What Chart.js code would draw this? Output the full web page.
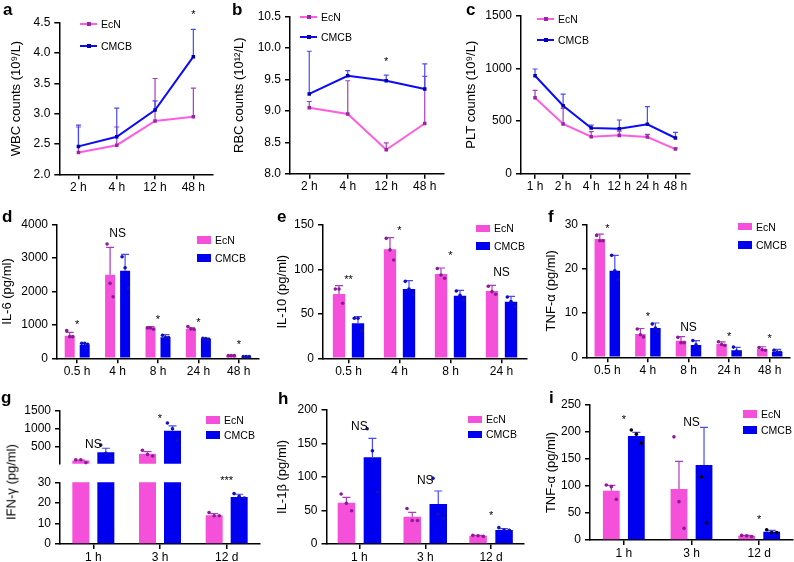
<!DOCTYPE html>
<html>
<head>
<meta charset="utf-8">
<script src="https://cdn.jsdelivr.net/npm/chart.js@4.4.1/dist/chart.umd.min.js"></script>
<style>
body { margin: 0; background: #fff; width: 794px; height: 562px; position: relative; overflow: hidden; font-family: 'Liberation Sans', Arial, sans-serif; }
canvas { position: absolute; }
.lbl { position: absolute; font-weight: bold; font-size: 17px; line-height: 17px; }
.leg { position: absolute; font-size: 10.5px; line-height: 12px; white-space: nowrap; }
.sw { position: absolute; }
.ytitle { position: absolute; font-size: 13px; white-space: nowrap; transform: translate(-50%, -50%) rotate(-90deg); }
</style>
</head>
<body>
<script>
// categories
const catsAB = ['2 h', '4 h', '12 h', '48 h'];
const catsC = ['1 h', '2 h', '4 h', '12 h', '24 h', '48 h'];
const catsDF = ['0.5 h', '4 h', '8 h', '24 h', '48 h'];
const catsE = ['0.5 h', '4 h', '8 h', '24 h'];
const catsGHI = ['1 h', '3 h', '12 d'];
const groups = ['EcN', 'CMCB'];

// y tick values
const ticksA = [2.0, 2.5, 3.0, 3.5, 4.0, 4.5];
const ticksB = [8.0, 8.5, 9.0, 9.5, 10.0, 10.5];
const ticksC = [0, 500, 1000, 1500];
const ticksD = [0, 1000, 2000, 3000, 4000];
const ticksE = [0, 50, 100, 150];
const ticksF = [0, 10, 20, 30];
const ticksGTop = [500, 1000, 1500];
const ticksGBottom = [0, 10, 20, 30];
const ticksH = [0, 50, 100, 150, 200];
const ticksI = [0, 50, 100, 150, 200, 250];

// a - WBC
const wbcEcN = [2.36, 2.48, 2.88, 2.95];
const wbcEcNSd = [0.42, 0.30, 0.70, 0.47];
const wbcCMCB = [2.46, 2.62, 3.06, 3.94];
const wbcCMCBSd = [0.35, 0.47, 0.15, 0.45];
const sigA = ['', '', '', '*'];
const sigAtA = [0, 0, 0, 4.68];

// b - RBC
const rbcEcN = [9.05, 8.95, 8.38, 8.80];
const rbcEcNSd = [0.10, 0.53, 0.11, 0.75];
const rbcCMCB = [9.27, 9.56, 9.48, 9.35];
const rbcCMCBSd = [0.68, 0.08, 0.09, 0.40];
const sigB = ['', '', '*', ''];
const sigAtB = [0, 0, 9.83, 0];

// c - PLT
const pltEcN = [721, 472, 351, 364, 348, 234];
const pltEcNSd = [70, 148, 48, 41, 26, 10];
const pltCMCB = [930, 645, 434, 427, 469, 339];
const pltCMCBSd = [64, 111, 28, 83, 167, 54];

// d - IL-6
const il6EcN = [678, 2504, 928, 878, 80];
const il6EcNSem = [100, 818, 20, 35, 10];
const il6CMCB = [399, 2623, 628, 578, 50];
const il6CMCBSem = [40, 490, 80, 20, 5];
const il6EcNDots = [[828, 648, 648], [3421, 2244, 1845], [910, 910, 870], [950, 880, 870], [80, 80, 80]];
const il6CMCBDots = [[450, 450, 420], [3042, 2713, 2095], [690, 620, 620], [600, 590, 570], [50, 50, 50]];
const sigD = ['*', 'NS', '*', '*', '*'];
const sigAtD = [1100, 3750, 1230, 1150, 480];

// e - IL-10
const il10EcN = [72.4, 122.6, 94.9, 75.75];
const il10EcNSem = [9.35, 13.15, 6.7, 6.35];
const il10CMCB = [39.4, 78, 70.5, 63.75];
const il10CMCBSem = [7.5, 9.4, 6, 6];
const il10EcNDots = [[78, 78, 62], [135, 122, 110.6], [101, 93.75, 90], [81, 75, 72]];
const il10CMCBDots = [[45, 45, 31], [86.6, 78, 71.25], [75.75, 71, 66], [69, 64, 58]];
const sigE = ['**', '*', '*', 'NS'];
const sigAtE = [91, 147, 118, 97.5];

// f - TNF-a
const tnfEcN = [26.7, 5.26, 3.76, 3.0, 1.88];
const tnfEcNSem = [1.1, 1.24, 0.9, 0.5, 0.5];
const tnfCMCB = [19.55, 6.6, 2.78, 1.58, 1.28];
const tnfCMCBSem = [3.45, 1.14, 1.0, 0.67, 0.5];
const tnfEcNDots = [[27.5, 26.3, 26.3], [6.4, 5.1, 4.6], [4.5, 3.3, 3.3], [3.5, 2.9, 2.7], [2.2, 1.7, 1.6]];
const tnfCMCBDots = [[23, 19.5, 17.5], [7.5, 6.6, 5.8], [3.8, 2.8, 1.8], [2.3, 1.4, 1.1], [1.6, 1.2, 1.1]];
const sigF = ['*', '*', 'NS', '*', '*'];
const sigAtF = [29.7, 9.8, 6.9, 5.3, 4.9];

// g - IFN-g (broken axis)
const ifnEcN = [119, 309.5, 14.0];
const ifnEcNSem = [10, 55, 0.8];
const ifnCMCB = [349, 944, 22.9];
const ifnCMCBSem = [111, 135, 1.3];
const ifnEcNDots = [[143, 143, 63], [405, 286, 246], [15.3, 13.7, 13.7]];
const ifnCMCBDots = [[548, 320, 183], [1159, 1000, 667], [24.5, 23.2, 22.4]];
const sigGTop = ['NS', '*', ''];
const sigAtGTop = [580, 1357, 0];
const sigGBottom = ['', '', '***'];
const sigAtGBottom = [0, 0, 32.3];

// h - IL-1b
const il1bEcN = [61.7, 40.8, 12.4];
const il1bEcNSem = [8, 6.5, 0.5];
const il1bCMCB = [129.4, 59.7, 20.9];
const il1bCMCBSem = [28.3, 19.4, 2];
const il1bEcNDots = [[74.6, 60.7, 49.7], [53, 35, 35], [12.9, 12.4, 11.4]];
const il1bCMCBDots = [[172, 139, 78], [98, 44.8, 38.3], [24.4, 20.9, 20.4]];
const sigH = ['NS', 'NS', '*'];
const sigAtH = [177, 95.5, 46.8];

// i - TNF-a
const tnf2EcN = [91.3, 94.4, 8];
const tnf2EcNSem = [9.7, 51.3, 0.6];
const tnf2CMCB = [192.6, 138.9, 15.4];
const tnf2CMCBSem = [6.8, 69.7, 2.5];
const tnf2EcNDots = [[101.8, 98.8, 75.3], [191, 71, 21.6], [8.5, 7.7, 6.5]];
const tnf2CMCBDots = [[203.7, 196, 179], [117, 32], [19, 14, 14]];
const sigI = ['*', 'NS', '*'];
const sigAtI = [228, 220, 43];

// colours
const pinkLine = '#ff5ce0', purple = '#9a25a8', blueLine = '#0a0aff', darkBlue = '#0000b0';
const pinkBar = '#f550d9', blueBar = '#0000f0';
const errPink = '#a83cc0', errBlue = '#4a4af5';
const dotPink = '#8e1a99', dotBlue = '#1010c0';

Chart.defaults.font.family = "'Liberation Sans', Arial, sans-serif";
Chart.defaults.color = '#000';
Chart.defaults.animation = false;

// error bars, replicate dots and significance marks
function drawMarks(chart, o) {
  const ctx = chart.ctx, ys = chart.scales.y;
  ctx.save();
  chart.data.datasets.forEach((ds, i) => {
    const meta = chart.getDatasetMeta(i);
    meta.data.forEach((el, j) => {
      const v = ds.data[j];
      if (v < ys.min || v > ys.max) return;
      if (o.err) {
        const yc = ys.getPixelForValue(v + o.err[i][j]);
        ctx.strokeStyle = o.errColor[i];
        ctx.lineWidth = 1.2;
        ctx.beginPath();
        ctx.moveTo(el.x, el.y); ctx.lineTo(el.x, yc);
        ctx.moveTo(el.x - o.cap, yc); ctx.lineTo(el.x + o.cap, yc);
        ctx.stroke();
      }
    });
  });
  if (o.dots) {
    chart.data.datasets.forEach((ds, i) => {
      const meta = chart.getDatasetMeta(i);
      meta.data.forEach((el, j) => {
        const list = o.dots[i][j];
        list.forEach((d, k) => {
          if (d < ys.min || d > ys.max) return;
          const dx = (k - (list.length - 1) / 2) * el.width * 0.3;
          ctx.fillStyle = o.dotColor[i];
          ctx.beginPath();
          ctx.arc(el.x + dx, ys.getPixelForValue(d), 1.8, 0, Math.PI * 2);
          ctx.fill();
        });
      });
    });
  }
  ctx.restore();
}

const marks = {
  id: 'marks',
  beforeDatasetsDraw(chart, args, o) { if (o.under) drawMarks(chart, o); },
  afterDatasetsDraw(chart, args, o) { if (!o.under) drawMarks(chart, o); },
  afterDraw(chart, args, o) {
    if (!o.sig) return;
    const ctx = chart.ctx, xs = chart.scales.x, ys = chart.scales.y;
    ctx.save();
    ctx.fillStyle = '#000';
    ctx.textAlign = 'center';
    ctx.textBaseline = 'alphabetic';
    o.sig.forEach((s, j) => {
      if (!s) return;
      const x = xs.getPixelForValue(j), y = ys.getPixelForValue(o.sigAt[j]);
      if (s.includes('*')) { ctx.font = "11px 'Liberation Sans', Arial"; ctx.fillText(s, x, y + 6); }
      else { ctx.font = "12px 'Liberation Sans', Arial"; ctx.fillText(s, x, y + 4.3); }
    });
    ctx.restore();
  }
};
Chart.register(marks);

function yScale(ticks, title, dec, min) {
  return {
    min: min !== undefined ? min : ticks[0], max: ticks[ticks.length - 1],
    afterBuildTicks: s => { s.ticks = ticks.map(v => ({ value: v })); },
    ticks: { padding: 4, font: { size: 12 }, callback: v => dec ? v.toFixed(dec) : String(v) },
    grid: { display: true, drawOnChartArea: false, drawTicks: true, tickLength: 5, color: '#000', lineWidth: 1.5 },
    border: { display: true, color: '#000', width: 1.5 },
    title: title ? { display: true, text: title, font: { size: 13 }, padding: 0 } : { display: false }
  };
}
function xScale(hide) {
  return {
    type: 'category', offset: true, display: !hide,
    ticks: { padding: 1, font: { size: 12 }, maxRotation: 0, autoSkip: false },
    grid: { display: true, offset: false, drawOnChartArea: false, drawTicks: true, tickLength: 5, color: '#000', lineWidth: 1.5 },
    border: { display: true, color: '#000', width: 1.5 }
  };
}

function panel(area, titleX, config, hideX) {
  const x0 = Math.floor(titleX - 7.8), y0 = Math.floor(area.t - 20);
  const x1 = Math.min(794, Math.ceil(area.r + 6)), y1 = Math.ceil(area.b + (hideX ? 2 : 24));
  const cv = document.createElement('canvas');
  cv.width = x1 - x0; cv.height = y1 - y0;
  cv.style.left = x0 + 'px'; cv.style.top = y0 + 'px';
  document.body.appendChild(cv);
  const o = config.options;
  o.responsive = false;
  o.layout = { padding: { left: 0, top: area.t - y0, right: x1 - area.r, bottom: hideX ? y1 - area.b : 0 } };
  o.scales.y.afterFit = s => { s.width = area.l - x0; };
  if (!hideX) o.scales.x.afterFit = s => { s.height = y1 - area.b; };
  o.plugins.legend = { display: false };
  o.plugins.tooltip = { enabled: false };
  return new Chart(cv, config);
}

function lineChart(area, titleX, cats, e, c, eSd, cSd, ticks, dec, title, sig, sigAt) {
  const ds = (label, data, line, mark) => ({
    label, data, borderColor: line, backgroundColor: line, borderWidth: 2, tension: 0,
    pointStyle: 'rect', pointRadius: 2.5, pointBorderWidth: 0, pointBackgroundColor: mark
  });
  return panel(area, titleX, {
    type: 'line',
    data: { labels: cats, datasets: [ds(groups[0], e, pinkLine, purple), ds(groups[1], c, blueLine, darkBlue)] },
    options: {
      scales: { x: xScale(false), y: yScale(ticks, title, dec) },
      plugins: { marks: { under: true, err: [eSd, cSd], errColor: [errPink, errBlue], cap: 2.5, sig, sigAt } }
    }
  });
}

function barChart(area, titleX, cats, e, c, eSem, cSem, eDots, cDots, ticks, title, sig, sigAt, cat, bar, opts) {
  opts = opts || {};
  const ds = (label, data, col) => ({ label, data, backgroundColor: col, borderWidth: 0, categoryPercentage: cat, barPercentage: bar });
  return panel(area, titleX, {
    type: 'bar',
    data: { labels: cats, datasets: [ds(groups[0], e, pinkBar), ds(groups[1], c, blueBar)] },
    options: {
      scales: { x: xScale(opts.hideX), y: yScale(ticks, title, 0, opts.min) },
      plugins: { marks: { err: [eSem, cSem], errColor: [errPink, errBlue], cap: 4, dots: [eDots, cDots], dotColor: opts.dotColor || [dotPink, dotBlue], sig, sigAt } }
    }
  }, opts.hideX);
}

// top row
lineChart({ l: 59.3, t: 22.7, r: 212.5, b: 174.3 }, 17.5, catsAB, wbcEcN, wbcCMCB, wbcEcNSd, wbcCMCBSd, ticksA, 1, 'WBC counts (10⁹/L)', sigA, sigAtA);
lineChart({ l: 290, t: 16.7, r: 444, b: 173.7 }, 240, catsAB, rbcEcN, rbcCMCB, rbcEcNSd, rbcCMCBSd, ticksB, 1, 'RBC counts (10¹²/L)', sigB, sigAtB);
lineChart({ l: 521, t: 15.7, r: 689.5, b: 173.7 }, 472, catsC, pltEcN, pltCMCB, pltEcNSd, pltCMCBSd, ticksC, 0, 'PLT counts (10⁹/L)', null, null);

// middle row
barChart({ l: 57, t: 224.7, r: 259, b: 358.3 }, 8, catsDF, il6EcN, il6CMCB, il6EcNSem, il6CMCBSem, il6EcNDots, il6CMCBDots, ticksD, 'IL-6 (pg/ml)', sigD, sigAtD, 0.743, 0.667);
barChart({ l: 323, t: 225, r: 527, b: 358.3 }, 283, catsE, il10EcN, il10CMCB, il10EcNSem, il10CMCBSem, il10EcNDots, il10CMCBDots, ticksE, 'IL-10 (pg/ml)', sigE, sigAtE, 0.745, 0.65);
barChart({ l: 587, t: 224.3, r: 790, b: 357.3 }, 552, catsDF, tnfEcN, tnfCMCB, tnfEcNSem, tnfCMCBSem, tnfEcNDots, tnfCMCBDots, ticksF, 'TNF-α (pg/ml)', sigF, sigAtF, 0.739, 0.7);

// bottom row, g has a broken axis: two stacked charts
barChart({ l: 60, t: 410.7, r: 260, b: 472.3 }, 11, catsGHI, ifnEcN, ifnCMCB, ifnEcNSem, ifnCMCBSem, ifnEcNDots, ifnCMCBDots, ticksGTop, null, sigGTop, sigAtGTop, 0.75, 0.68, { hideX: true, min: 30 });
barChart({ l: 60, t: 482.3, r: 260, b: 544 }, 11, catsGHI, ifnEcN, ifnCMCB, ifnEcNSem, ifnCMCBSem, ifnEcNDots, ifnCMCBDots, ticksGBottom, null, sigGBottom, sigAtGBottom, 0.75, 0.68);
barChart({ l: 326.5, t: 410, r: 524, b: 544 }, 283, catsGHI, il1bEcN, il1bCMCB, il1bEcNSem, il1bCMCBSem, il1bEcNDots, il1bCMCBDots, ticksH, 'IL-1β (pg/ml)', sigH, sigAtH, 0.79, 0.673);
barChart({ l: 590, t: 405, r: 793, b: 540 }, 552, catsGHI, tnf2EcN, tnf2CMCB, tnf2EcNSem, tnf2CMCBSem, tnf2EcNDots, tnf2CMCBDots, ticksI, 'TNF-α (pg/ml)', sigI, sigAtI, 0.74, 0.67, { dotColor: [dotPink, '#000'] });

// html extras: panel letters, legends, g axis title
function el(cls, css, text) {
  const d = document.createElement('div');
  d.className = cls;
  Object.assign(d.style, css);
  if (text) d.textContent = text;
  document.body.appendChild(d);
}
[['a', 3, 1], ['b', 232, 1], ['c', 466, 1], ['d', 2, 208], ['e', 277, 208], ['f', 548, 208], ['g', 1, 389], ['h', 278, 390], ['i', 549, 389]]
  .forEach(([t, x, y]) => el('lbl', { left: x + 'px', top: y + 'px' }, t));

function lineLegend(x, y, line, mark, text) {
  el('sw', { left: x + 'px', top: (y - 1) + 'px', width: '17px', height: '2px', background: line });
  el('sw', { left: (x + 6.5) + 'px', top: (y - 2) + 'px', width: '4px', height: '4px', background: mark });
  el('leg', { left: (x + 21) + 'px', top: (y - 6) + 'px' }, text);
}
function boxLegend(x, y, col, text) {
  el('sw', { left: x + 'px', top: (y - 3.75) + 'px', width: '14px', height: '7.5px', background: col });
  el('leg', { left: (x + 18) + 'px', top: (y - 6) + 'px' }, text);
}
[[80, 24, 46], [300, 16.7, 37], [537, 19, 40]].forEach(([x, y1, y2]) => {
  lineLegend(x, y1, pinkLine, purple, groups[0]);
  lineLegend(x, y2, blueLine, darkBlue, groups[1]);
});
[[197, 240, 258], [476, 228.3, 246], [738, 226.7, 245], [206, 420, 435], [468, 419.3, 434.3], [743, 414, 430]].forEach(([x, y1, y2]) => {
  boxLegend(x, y1, pinkBar, groups[0]);
  boxLegend(x, y2, blueBar, groups[1]);
});
el('ytitle', { left: '11px', top: '482px' }, 'IFN-γ (pg/ml)');
</script>
</body>
</html>
